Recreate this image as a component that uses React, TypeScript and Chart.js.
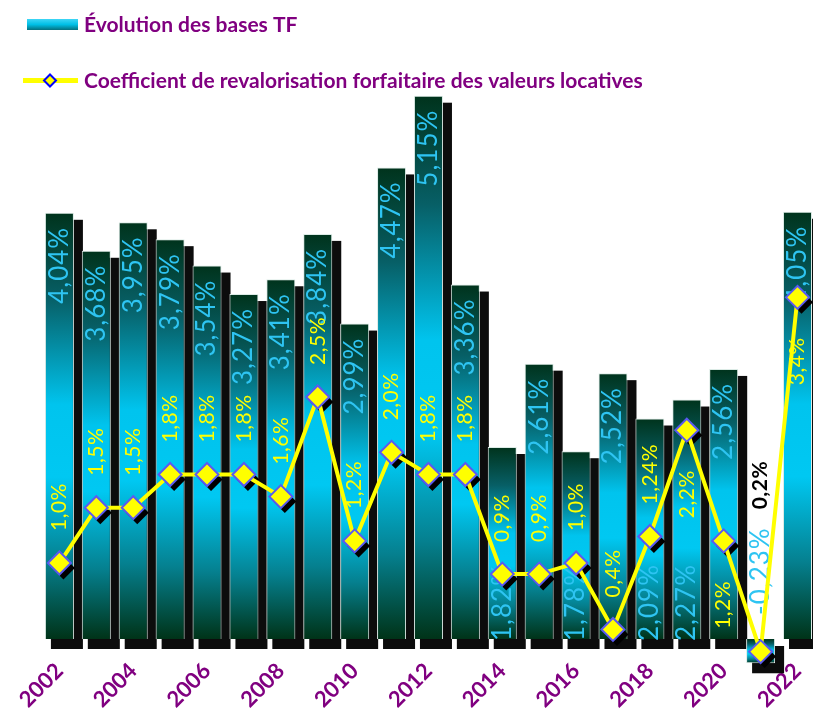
import React, { useEffect, useRef } from "react";
import { Chart, registerables } from "chart.js";

Chart.register(...registerables);

// ---------- data ----------
const YEARS = [2002, 2003, 2004, 2005, 2006, 2007, 2008, 2009, 2010, 2011, 2012, 2013, 2014, 2015, 2016, 2017, 2018, 2019, 2020, 2021, 2022];
const BASES_TF = [4.04, 3.68, 3.95, 3.79, 3.54, 3.27, 3.41, 3.84, 2.99, 4.47, 5.15, 3.36, 1.82, 2.61, 1.78, 2.52, 2.09, 2.27, 2.56, -0.23, 4.05];
const COEFF = [1.0, 1.5, 1.5, 1.8, 1.8, 1.8, 1.6, 2.5, 1.2, 2.0, 1.8, 1.8, 0.9, 0.9, 1.0, 0.4, 1.24, 2.2, 1.2, 0.2, 3.4];
const X_TICK_YEARS = [2002, 2004, 2006, 2008, 2010, 2012, 2014, 2016, 2018, 2020, 2022];
const LEGEND_LABELS = [
  "Évolution des bases TF",
  "Coefficient de revalorisation forfaitaire des valeurs locatives",
];

// ---------- layout / style config ----------
const LINE_LABEL_BELOW_YEARS = [2019, 2020, 2022];
const BAR_LABEL_AT_BASE_BELOW = 2.3;
const X_MIN = 2000.39;
const X_MAX = 2022.42;
const Y_BAR_MIN = -0.218;
const Y_BAR_MAX = 5.204;
const Y_LINE_MIN = 0.106;
const Y_LINE_MAX = 5.273;
const PURPLE = "#800080";
const YELLOW = "#ffff00";
const LABEL_CYAN = "#2ec4f2";

const fmt = (v: number, minDec: number) => {
  const dec = Math.max(minDec, (String(Math.abs(v)).split(".")[1] || "").length);
  return v.toFixed(dec).replace(".", ",") + "%";
};

function barGradient(ctx: any) {
  const chart = ctx.chart;
  if (!chart.chartArea || ctx.type !== "data") return "#00c4ee";
  const v = ctx.parsed.y;
  const ys = chart.scales.y;
  const top = ys.getPixelForValue(Math.max(v, 0));
  const bottom = ys.getPixelForValue(Math.min(v, 0));
  const g = chart.ctx.createLinearGradient(0, top, 0, bottom);
  g.addColorStop(0, "#00331c");
  g.addColorStop(0.2, "#075f66");
  g.addColorStop(0.45, "#00c4ee");
  g.addColorStop(0.62, "#00c8f2");
  g.addColorStop(0.82, "#05808f");
  g.addColorStop(1, "#003318");
  return g;
}

function drawRotText(c: CanvasRenderingContext2D, text: string, x: number, y: number, d: number, align: CanvasTextAlign) {
  c.save();
  c.translate(x, y);
  c.rotate(-Math.PI / 2);
  c.textAlign = align;
  c.textBaseline = "middle";
  c.fillText(text, d, 0);
  c.restore();
}

const decorPlugin = {
  id: "decor",
  beforeDatasetsDraw(chart: any) {
    const c: CanvasRenderingContext2D = chart.ctx;
    const meta = chart.getDatasetMeta(0);
    c.save();
    c.fillStyle = "#0c0c0c";
    meta.data.forEach((el: any) => {
      const left = el.x - el.width / 2;
      const right = el.x + el.width / 2;
      const top = Math.min(el.y, el.base);
      const bottom = Math.max(el.y, el.base);
      c.fillRect(left + 6, top + 7, right + 9 - (left + 6), bottom + 10 - (top + 7));
    });
    c.restore();
  },
  beforeDatasetDraw(chart: any, args: any) {
    if (args.index !== 1) return;
    const c: CanvasRenderingContext2D = chart.ctx;
    const barMeta = chart.getDatasetMeta(0);
    c.save();
    c.font = "26px Lato";
    (c as any).letterSpacing = "1px";
    c.fillStyle = LABEL_CYAN;
    barMeta.data.forEach((el: any, i: number) => {
      const v = BASES_TF[i];
      const t = fmt(v, 2);
      if (v < 0) {
        drawRotText(c, t, el.x, el.base, 24, "left");
      } else if (v < BAR_LABEL_AT_BASE_BELOW) {
        drawRotText(c, t, el.x, el.base, -2, "left");
      } else {
        drawRotText(c, t, el.x, el.y, -14, "right");
      }
    });
    c.restore();
    const lineMeta = chart.getDatasetMeta(1);
    c.save();
    c.fillStyle = "#000";
    lineMeta.data.forEach((p: any) => {
      const r = 11.5;
      const x = p.x + 4;
      const y = p.y + 5;
      c.beginPath();
      c.moveTo(x, y - r);
      c.lineTo(x + r, y);
      c.lineTo(x, y + r);
      c.lineTo(x - r, y);
      c.closePath();
      c.fill();
    });
    c.restore();
  },
  afterDatasetsDraw(chart: any) {
    const c: CanvasRenderingContext2D = chart.ctx;
    const lineMeta = chart.getDatasetMeta(1);
    const barMeta = chart.getDatasetMeta(0);
    c.save();
    lineMeta.data.forEach((p: any, i: number) => {
      const t = fmt(COEFF[i], 1);
      const year = YEARS[i];
      const bv = BASES_TF[i];
      if (bv < 0) {
        const bel = barMeta.data[i];
        c.font = "26px Lato";
        (c as any).letterSpacing = "1px";
        const bw = c.measureText(fmt(bv, 2)).width;
        c.font = "bold 21px Lato";
        (c as any).letterSpacing = "0.5px";
        c.fillStyle = "#000";
        drawRotText(c, t, p.x, bel.base, 24 + bw + 18, "left");
        return;
      }
      c.font = "21px Lato";
      (c as any).letterSpacing = "0.5px";
      c.fillStyle = YELLOW;
      if (LINE_LABEL_BELOW_YEARS.includes(year)) {
        drawRotText(c, t, p.x, p.y, -40, "right");
      } else {
        drawRotText(c, t, p.x, p.y, 32, "left");
      }
    });
    c.restore();
  },
  afterDraw(chart: any) {
    const c: CanvasRenderingContext2D = chart.ctx;
    c.save();
    const g = c.createLinearGradient(0, 19, 0, 30);
    g.addColorStop(0, "#3fd6f6");
    g.addColorStop(0.5, "#00bfe6");
    g.addColorStop(1, "#05707e");
    c.fillStyle = g;
    c.fillRect(27, 19, 51, 11);
    c.strokeStyle = YELLOW;
    c.lineWidth = 5;
    c.beginPath();
    c.moveTo(23, 80.5);
    c.lineTo(78, 80.5);
    c.stroke();
    c.beginPath();
    c.moveTo(50, 74.5);
    c.lineTo(56, 80.5);
    c.lineTo(50, 86.5);
    c.lineTo(44, 80.5);
    c.closePath();
    c.fillStyle = YELLOW;
    c.fill();
    c.strokeStyle = "#0000ff";
    c.lineWidth = 2;
    c.stroke();
    c.font = "bold 21px Lato";
    c.fillStyle = PURPLE;
    c.textAlign = "left";
    c.textBaseline = "alphabetic";
    c.fillText(LEGEND_LABELS[0], 84, 32);
    c.fillText(LEGEND_LABELS[1], 84, 88);
    c.restore();
  },
};

export default function App() {
  const ref = useRef<HTMLCanvasElement>(null);
  useEffect(() => {
    const canvas = ref.current!;
    const chart = new Chart(canvas, {
      type: "bar",
      data: {
        datasets: [
          {
            type: "bar",
            label: LEGEND_LABELS[0],
            data: YEARS.map((x, i) => ({ x, y: BASES_TF[i] })),
            yAxisID: "y",
            order: 2,
            backgroundColor: barGradient,
            borderColor: "#dcebe6",
            borderWidth: 1,
            barPercentage: 0.786,
            categoryPercentage: 1,
            clip: false,
          } as any,
          {
            type: "line",
            label: LEGEND_LABELS[1],
            data: YEARS.map((x, i) => ({ x, y: COEFF[i] })),
            yAxisID: "y2",
            order: 1,
            borderColor: YELLOW,
            borderWidth: 4,
            pointStyle: "rectRot",
            pointRadius: 11.5,
            pointBackgroundColor: YELLOW,
            pointBorderColor: "#5a5af0",
            pointBorderWidth: 2,
            tension: 0,
            clip: false,
          } as any,
        ],
      },
      options: {
        responsive: false,
        animation: false,
        events: [],
        layout: { padding: { top: 90, left: 0, right: 0, bottom: 0 }, autoPadding: false },
        plugins: { legend: { display: false }, tooltip: { enabled: false } },
        scales: {
          x: {
            type: "linear",
            offset: false,
            min: X_MIN,
            max: X_MAX,
            grid: { display: false, drawTicks: false, offset: false },
            border: { display: false },
            afterBuildTicks: (scale: any) => {
              scale.ticks = X_TICK_YEARS.map((value) => ({ value }));
            },
            afterFit: (scale: any) => {
              scale.height = 49;
              scale.paddingLeft = 0;
              scale.paddingRight = 0;
            },
            ticks: {
              autoSkip: false,
              minRotation: 45,
              maxRotation: 45,
              padding: -4,
              color: PURPLE,
              font: { family: "Lato", size: 22, weight: "bold" },
              callback: (v: any) => String(v),
            },
          },
          y: {
            display: false,
            min: Y_BAR_MIN,
            max: Y_BAR_MAX,
          },
          y2: {
            display: false,
            min: Y_LINE_MIN,
            max: Y_LINE_MAX,
          },
        },
      } as any,
      plugins: [decorPlugin],
    });
    return () => chart.destroy();
  }, []);
  return (
    <div style={{ position: "absolute", left: 0, top: 0, width: 813, height: 711, background: "#fff" }}>
      <canvas ref={ref} width={813} height={711} style={{ display: "block", width: 813, height: 711 }} />
    </div>
  );
}
